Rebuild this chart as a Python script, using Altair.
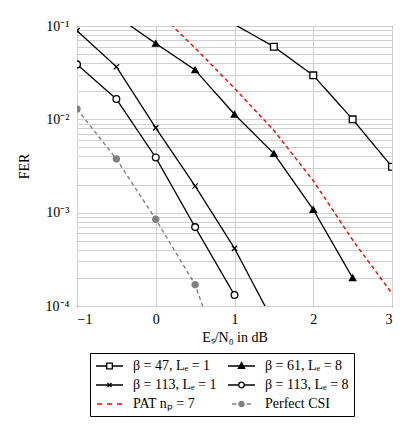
import altair as alt
import pandas as pd

# ---------------- data ----------------
series_names = ["β = 47, Lₑ = 1", "β = 61, Lₑ = 8", "β = 113, Lₑ = 1",
                "β = 113, Lₑ = 8", "PAT nₚ = 7", "Perfect CSI"]

snr_b47_le1 = [1.0, 1.5, 2.0, 2.5, 3.0]
fer_b47_le1 = [0.104, 0.060, 0.0296, 0.0100, 0.0031]

snr_b61_le8 = [-0.5, 0.0, 0.5, 1.0, 1.5, 2.0, 2.5]
fer_b61_le8 = [0.128, 0.065, 0.0338, 0.0113, 0.0043, 0.00108, 0.00020]

snr_b113_le1 = [-1.0, -0.5, 0.0, 0.5, 1.0, 1.5]
fer_b113_le1 = [0.089, 0.0366, 0.0081, 0.00193, 0.000415, 0.000066]

snr_b113_le8 = [-1.0, -0.5, 0.0, 0.5, 1.0]
fer_b113_le8 = [0.0388, 0.0165, 0.0039, 0.00070, 0.000131]

snr_pat = [0.0, 0.5, 1.0, 1.5, 2.0, 2.5, 3.0]
fer_pat = [0.15, 0.058, 0.0215, 0.0076, 0.0022, 0.00051, 0.000136]

snr_csi = [-1.0, -0.5, 0.0, 0.5, 1.0]
fer_csi = [0.0129, 0.00376, 0.00085, 0.000169, 0.000011]

x_ticks = [-1, 0, 1, 2, 3]
y_decades = [0.1, 0.01, 0.001, 0.0001]
y_decade_labels = ["10⁻¹", "10⁻²", "10⁻³", "10⁻⁴"]

all_x = [snr_b47_le1, snr_b61_le8, snr_b113_le1, snr_b113_le8, snr_pat, snr_csi]
all_y = [fer_b47_le1, fer_b61_le8, fer_b113_le1, fer_b113_le8, fer_pat, fer_csi]

rows = []
for name, xs, ys in zip(series_names, all_x, all_y):
    for a, b in zip(xs, ys):
        rows.append({"series": name, "snr": a, "fer": b})
df = pd.DataFrame(rows)

# y grid values: decades plus 2..9 minors
y_grid = list(y_decades)
for d in [0.01, 0.001, 0.0001]:
    for k in range(2, 10):
        y_grid.append(round(k * d, 10))

label_expr_y = " : ".join(
    f"datum.value == {v} ? '{lab}'" for v, lab in zip(y_decades, y_decade_labels)
) + " : ''"

FONT = "Liberation Serif"

x_enc = alt.X("snr:Q",
              scale=alt.Scale(domain=[-1, 3], nice=False, zero=False),
              axis=alt.Axis(values=x_ticks, title="Eₛ/N₀ in dB", grid=True,
                            ticks=False, domain=False, labelPadding=6,
                            titlePadding=4,
                            labelExpr="datum.value < 0 ? '−' + abs(datum.value) : '' + datum.value"))
y_enc = alt.Y("fer:Q",
              scale=alt.Scale(type="log", domain=[0.0001, 0.1], nice=False),
              axis=alt.Axis(values=y_grid, title="FER", grid=True, ticks=False,
                            domain=False, labelPadding=8, titlePadding=14,
                            labelOverlap=False, labelExpr=label_expr_y))

styles = {
    series_names[0]: dict(color="black", dash=[1, 0], shape="square", fill="white", size=45),
    series_names[1]: dict(color="black", dash=[1, 0], shape="triangle-up", fill="black", size=40),
    series_names[2]: dict(color="black", dash=[1, 0], shape="M-1,-1L1,1M-1,1L1,-1", fill="transparent", size=28),
    series_names[3]: dict(color="black", dash=[1, 0], shape="circle", fill="white", size=45),
    series_names[4]: dict(color="#ff0000", dash=[4, 3], shape=None, fill=None, size=0),
    series_names[5]: dict(color="#808080", dash=[4, 3], shape="circle", fill="#808080", size=38),
}

layers = []
for name in series_names:
    st = styles[name]
    base = alt.Chart(df).transform_filter(alt.datum.series == name)
    layers.append(base.mark_line(color=st["color"], strokeDash=st["dash"],
                                 strokeWidth=1.4 if st["color"] != "black" else 1.3,
                                 clip=True).encode(x=x_enc, y=y_enc))
for name in series_names:
    st = styles[name]
    if st["shape"] is None:
        continue
    base = (alt.Chart(df).transform_filter(alt.datum.series == name)
            .transform_filter((alt.datum.fer <= 0.1) & (alt.datum.fer >= 0.0001)))
    layers.append(base.mark_point(shape=st["shape"], size=st["size"], stroke=st["color"],
                                  fill=st["fill"], filled=False, opacity=1,
                                  strokeWidth=1.3, clip=True).encode(x=x_enc, y=y_enc))

# ---- legend symbols: line + marker drawn as custom paths ----
SYM = 14.0      # symbol size unit (sqrt of symbol area) in px
HALF = SYM / 2  # px per path unit
WID = 27.0      # drawn symbol width, px
MK = 2.8        # marker half size, px


def u(px):
    return round(-1 + px / HALF, 3)


def v(py):
    return round(py / HALF, 3)


cx = WID / 2


def seg(a, b):
    return f"M{u(a)},0H{u(b)}"


def square():
    return (f"M{u(cx - MK)},{v(-MK)}H{u(cx + MK)}V{v(MK)}H{u(cx - MK)}Z")


def circle(r):
    return (f"M{u(cx - r)},0A{v(r)},{v(r)} 0 1,0 {u(cx + r)},0"
            f"A{v(r)},{v(r)} 0 1,0 {u(cx - r)},0")


def triangle():
    return (f"M{u(cx)},{v(-MK - 0.6)}L{u(cx + MK + 0.3)},{v(MK - 0.4)}"
            f"L{u(cx - MK - 0.3)},{v(MK - 0.4)}Z")


def cross():
    c = 2.0
    return (f"M{u(cx - c)},{v(-c)}L{u(cx + c)},{v(c)}"
            f"M{u(cx - c)},{v(c)}L{u(cx + c)},{v(-c)}")


legend_path_for = {
    series_names[0]: seg(0, cx - MK) + seg(cx + MK, WID) + square(),
    series_names[1]: seg(0, WID) + triangle(),
    series_names[2]: seg(0, WID) + cross(),
    series_names[3]: seg(0, cx - MK) + seg(cx + MK, WID) + circle(MK),
    series_names[4]: seg(1, 6) + seg(11, 16) + seg(21, 26),
    series_names[5]: seg(4, 8.5) + seg(18.5, 23) + circle(2.6),
}
legend_stroke_for = {series_names[0]: "black", series_names[1]: "black",
                     series_names[2]: "black", series_names[3]: "black",
                     series_names[4]: "#ff0000", series_names[5]: "#808080"}
legend_fill_for = {series_names[0]: "white", series_names[1]: "black",
                   series_names[2]: "transparent", series_names[3]: "white",
                   series_names[4]: "transparent", series_names[5]: "#808080"}

# legend fills column by column: 3 rows x 2 columns
dom = [series_names[i] for i in (0, 2, 4, 1, 3, 5)]

leg_df = pd.DataFrame({"series": series_names, "snr": [0.0] * 6, "fer": [1.0] * 6})
leg = alt.Legend(title=None, columns=2, orient="none", legendX=13, legendY=327)
legend_layer = alt.Chart(leg_df).mark_point(size=SYM * SYM, filled=False, opacity=1,
                                            strokeWidth=1.3, clip=True).encode(
    x=x_enc, y=y_enc,
    shape=alt.Shape("series:N", scale=alt.Scale(domain=dom, range=[legend_path_for[d] for d in dom]), legend=leg),
    stroke=alt.Stroke("series:N", scale=alt.Scale(domain=dom, range=[legend_stroke_for[d] for d in dom]), legend=leg),
    fill=alt.Fill("series:N", scale=alt.Scale(domain=dom, range=[legend_fill_for[d] for d in dom]), legend=leg),
)
layers.append(legend_layer)

chart = alt.layer(*layers).properties(
    width=315, height=280,
    autosize=alt.AutoSizeParams(type="none"),
    padding={"left": 69, "top": 18, "right": 12, "bottom": 114},
).configure_view(
    stroke="black", strokeWidth=1
).configure_axis(
    labelFont=FONT, titleFont=FONT, labelFontSize=14, titleFontSize=14,
    labelColor="black", titleColor="black", titleFontWeight="normal",
    gridColor="#d0d0d0", gridWidth=1, gridOpacity=1,
).configure_legend(
    labelFont=FONT, labelFontSize=14, labelColor="black",
    symbolSize=SYM * SYM, symbolStrokeWidth=1.3, strokeColor="black",
    fillColor="white", padding=5, rowPadding=4, columnPadding=8,
    labelOffset=22, cornerRadius=0,
)

chart.save("out.html", embed_options={"renderer": "svg", "actions": False})
